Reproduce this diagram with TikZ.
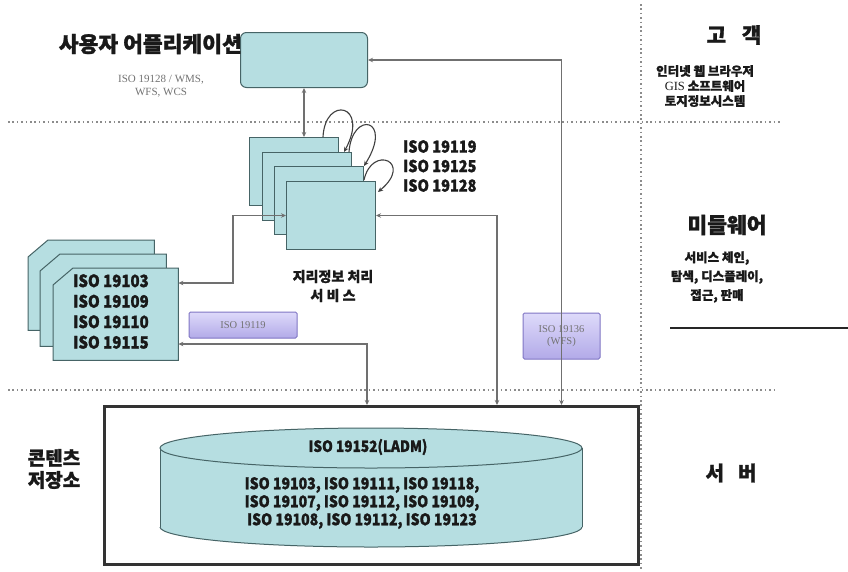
\documentclass[tikz,border=0pt]{standalone}
\usepackage{fontspec}
\setmainfont{Liberation Serif}
\newfontfamily\kr{Noto Sans CJK KR}[BoldFeatures={FakeBold=1.2}]
\newfontfamily\krc{Noto Sans CJK KR}[FakeStretch=0.88,BoldFeatures={FakeBold=1.2}]
\usetikzlibrary{arrows.meta,calc}
\definecolor{cyanfill}{RGB}{182,222,225}
\definecolor{cyanedge}{RGB}{70,100,102}
\definecolor{purtop}{RGB}{222,218,250}
\definecolor{purbot}{RGB}{178,170,232}
\definecolor{puredge}{RGB}{128,118,196}
\definecolor{conncol}{RGB}{112,112,112}
\definecolor{dotcol}{RGB}{140,140,140}
\definecolor{txt}{RGB}{25,25,25}
\newcommand{\fsz}[1]{\fontsize{#1}{#1}\selectfont}
\tikzset{
  cyanbox/.style={draw=cyanedge, fill=cyanfill, line width=1pt, inner sep=0pt},
  purbox/.style={draw=puredge, top color=purtop, bottom color=purbot, line width=1pt, rounded corners=1.5pt, inner sep=0pt, text=black!55, align=center},
  conn/.style={draw=conncol, line width=1.3pt, {Stealth[length=5pt,width=4.5pt]}-{Stealth[length=5pt,width=4.5pt]}},
  loopc/.style={draw=black!75, line width=1.1pt, -{Stealth[length=5pt,width=4.5pt]}},
  dotline/.style={draw=dotcol, line width=2pt, dash pattern=on 1.6pt off 2.8pt},
  krbig/.style={text=txt, font=\kr\bfseries, inner sep=0pt},
  isotxt/.style={text=txt, font=\krc\bfseries, inner sep=0pt},
}
\begin{document}
\begin{tikzpicture}[x=1pt,y=-1pt]
\useasboundingbox (0,0) rectangle (848,571);
\fill[white] (0,0) rectangle (848,571);

% dotted separators
\draw[dotline] (8,122) -- (780,122);
\draw[dotline] (8,390) -- (775,390);
\draw[dotline] (641,4) -- (641,571);
\draw[line width=1.5pt, black!85] (670,328) -- (848,328);

% user application
\node[cyanbox, rounded corners=6pt, minimum width=127pt, minimum height=55pt, anchor=north west] (app) at (240,32) {};
\node[krbig, font=\kr\bfseries\fsz{21.5}, anchor=east] (apptitle) at (242,44) {사용자 어플리케이션};
\node[text=black!55, align=center, font=\fsz{11}, inner sep=0pt] (appstd) at (161,86) {ISO 19128 / WMS,\\[2pt]WFS, WCS};

% service stack
\node[cyanbox, minimum width=89pt, minimum height=68pt, anchor=north west] (s1) at (249,137) {};
\node[cyanbox, minimum width=89pt, minimum height=68pt, anchor=north west] (s2) at (262,152) {};
\node[cyanbox, minimum width=89pt, minimum height=68pt, anchor=north west] (s3) at (274,166) {};
\node[cyanbox, minimum width=89pt, minimum height=68pt, anchor=north west] (s4) at (286,181) {};
\node[isotxt, font=\krc\bfseries\fsz{16.5}, align=left, anchor=west] (svcstd) at (403,166) {ISO 19119\\[3pt]ISO 19125\\[3pt]ISO 19128};
\node[krbig, font=\kr\bfseries\fsz{14}, align=center] (svclbl) at (333,286) {지리정보 처리\\[5pt]서 비 스};

% self loops
\draw[loopc] ($(s1.north east)+(-16,0)$) .. controls +(2,-42) and +(26,-48) .. ($(s2.north east)+(-8,0)$);
\draw[loopc] ($(s2.north east)+(-3,0)$) .. controls +(3,-42) and +(30,-48) .. (s3.north east);
\draw[loopc] ($(s3.north east)+(0,14)$) .. controls +(8,-36) and +(36,-30) .. ($(s4.north east)+(2,11)$);

% left chamfered stack
\node[minimum width=126pt, minimum height=90pt, inner sep=0pt, anchor=north west] (l1) at (28,240) {};
\node[minimum width=126pt, minimum height=92pt, inner sep=0pt, anchor=north west] (l2) at (40,254) {};
\node[minimum width=125pt, minimum height=92pt, inner sep=0pt, anchor=north west] (l3) at (53,268) {};
\foreach \n in {l1,l2,l3}{
  \draw[cyanedge, fill=cyanfill, line width=1pt] ($(\n.north west)+(0,17)$) -- ($(\n.north west)+(20,0)$) -- (\n.north east) -- (\n.south east) -- (\n.south west) -- cycle;
}
\node[isotxt, font=\krc\bfseries\fsz{17}, align=left, anchor=north west] (lstd) at (73,274) {ISO 19103\\[3.5pt]ISO 19109\\[3.5pt]ISO 19110\\[3.5pt]ISO 19115};

% purple standard boxes
\node[purbox, minimum width=108pt, minimum height=26pt, font=\fsz{10.5}] (p19119) at (243,325) {ISO 19119};
\node[purbox, minimum width=77pt, minimum height=46pt, font=\fsz{10.5}] (p19136) at (561.5,336) {ISO 19136\\[1pt](WFS)};

% content store
\node[draw=black!80, line width=2.5pt, minimum width=534pt, minimum height=158pt, inner sep=0pt, anchor=north west] (store) at (103,405) {};
\fill[cyanfill] (160,448) rectangle (582,527);
\begin{scope}
  \clip (150,527) rectangle (600,560);
  \draw[cyanedge, fill=cyanfill, line width=1pt] (371,527) ellipse [x radius=211, y radius=20];
\end{scope}
\draw[cyanedge, line width=1pt] (160,448) -- (160,527);
\draw[cyanedge, line width=1pt] (582,448) -- (582,527);
\draw[cyanedge, fill=cyanfill, line width=1pt] (371,448) ellipse [x radius=211, y radius=20];
\node[minimum width=422pt, minimum height=119pt, inner sep=0pt] (db) at (371,487) {};
\node[isotxt, font=\krc\bfseries\fsz{15.5}] (dbtop) at (368,447) {ISO 19152(LADM)};
\node[isotxt, font=\krc\bfseries\fsz{16}, align=center] (dbbody) at (362,503) {ISO 19103, ISO 19111, ISO 19118,\\[2pt]ISO 19107, ISO 19112, ISO 19109,\\[2pt]ISO 19108, ISO 19112, ISO 19123};
\node[krbig, font=\kr\bfseries\fsz{19}, align=center] (storelbl) at (54,469) {콘텐츠\\[3pt]저장소};

% right column labels
\node[krbig, font=\kr\bfseries\fsz{21}] (gogaek) at (734,35) {고\hspace{16pt}객};
\node[krbig, font=\kr\bfseries\fsz{12.5}, align=center] (gogaekd) at (705,86) {인터넷 웹 브라우저\\[2.5pt]{\rmfamily\mdseries GIS} 소프트웨어\\[2.5pt]토지정보시스템};
\node[krbig, font=\kr\bfseries\fsz{21.5}] (mid) at (727,225) {미들웨어};
\node[krbig, font=\kr\bfseries\fsz{12.5}, align=center] (midd) at (717,277) {서비스 체인,\\[4.5pt]탐색, 디스플레이,\\[4.5pt]접근, 판매};
\node[krbig, font=\kr\bfseries\fsz{20}] (server) at (731,473) {서\hspace{14pt}버};

% connectors
\coordinate (j1) at (233,283);
\coordinate (j2) at (497,0);
\coordinate (j3) at (367,344);
\draw[conn] (app.south) -- (app.south |- s1.north);
\draw[conn] (p19136.center |- store.north) -- (p19136.center |- app.east) -- (app.east);
\draw[conn] (s4.west) -| (j1) -- (j1 -| l3.east);
\draw[conn] (s4.east) -| (j2 |- store.north);
\draw[conn] (j3 -| l3.east) -- (j3) -- (j3 |- store.north);
\end{tikzpicture}
\end{document}
